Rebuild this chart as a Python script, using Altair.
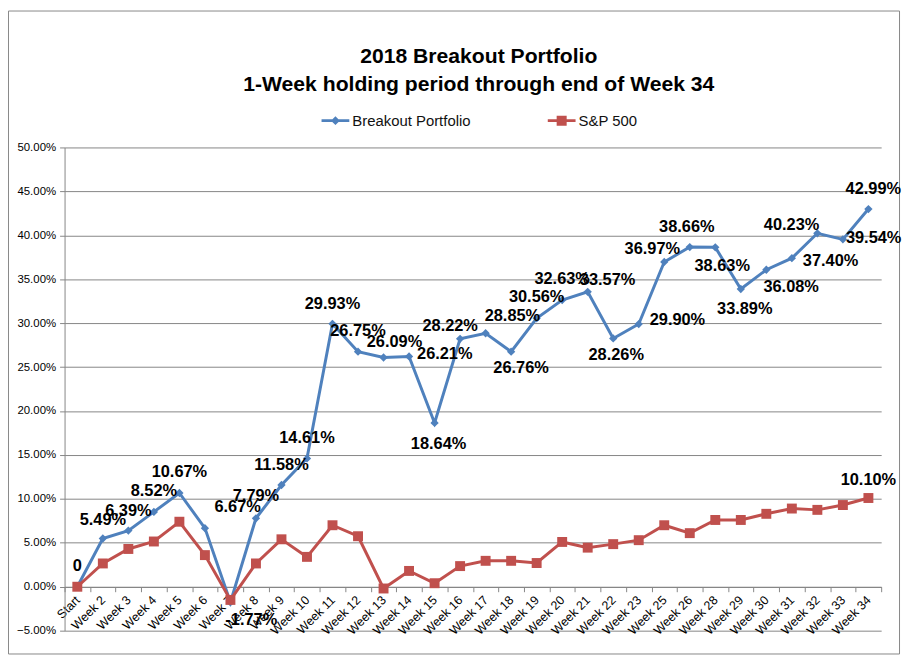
import altair as alt
import pandas as pd

categories = ["Start", "Week 2", "Week 3", "Week 4", "Week 5", "Week 6", "Week 7", "Week 8",
              "Week 9", "Week 10", "Week 11", "Week 12", "Week 13", "Week 14", "Week 15",
              "Week 16", "Week 17", "Week 18", "Week 19", "Week 20", "Week 21", "Week 22",
              "Week 23", "Week 25", "Week 26", "Week 28", "Week 29", "Week 30", "Week 31",
              "Week 32", "Week 33", "Week 34"]

breakout = [0, 5.49, 6.39, 8.52, 10.67, 6.67, -1.77, 7.79, 11.58, 14.61, 29.93, 26.75, 26.09,
            26.21, 18.64, 28.22, 28.85, 26.76, 30.56, 32.63, 33.57, 28.26, 29.90, 36.97, 38.66,
            38.63, 33.89, 36.08, 37.40, 40.23, 39.54, 42.99]

sp500 = [0, 2.65, 4.3, 5.15, 7.4, 3.6, -1.5, 2.65, 5.4, 3.4, 7.0, 5.75, -0.2, 1.8, 0.4, 2.35,
         2.95, 2.95, 2.7, 5.1, 4.45, 4.85, 5.3, 7.0, 6.1, 7.6, 7.6, 8.3, 8.9, 8.75, 9.3, 10.10]

series_names = ["Breakout Portfolio", "S&P 500"]
series_colors = ["#4F81BD", "#C0504D"]

# label placement (pixel offsets of each data label from its point)
label_dx = [0, 0, 0, 0, 0, 33, 21, 0, 0, 0, 0, 0, 11, 36, 4, -10, 27, 10, 0, 0, 20, 3, 39,
            -12, -3, 7, 4, 25, 39, -26, 31, 5]
label_dy = [-21, -19, -20, -21, -21, -21, 18, -22, -20, -20, -20, -21, -16, -2, 21, -13, -17,
            17, -21, -21, -12, 17, -4, -13, -20, 19, 20, 17, 3, -8, -1, -20]

W, H = 823, 487
Y_MIN, Y_MAX = -5, 50
half_band = W / len(categories) / 2
px_per_unit = H / (Y_MAX - Y_MIN)

rows = []
for i, c in enumerate(categories):
    rows.append({"category": c, "series": series_names[0], "value": breakout[i]})
    rows.append({"category": c, "series": series_names[1], "value": sp500[i]})
df = pd.DataFrame(rows)

lab_rows = []
for i, c in enumerate(categories):
    v = breakout[i]
    txt = "0" if v == 0 else f"{v:.2f}%"
    lab_rows.append({"category": c, "value": v, "label": txt,
                     "dx": label_dx[i] + half_band, "dy": label_dy[i]})
lab_rows.append({"category": categories[-1], "value": sp500[-1], "label": f"{sp500[-1]:.2f}%",
                 "dx": 0 + half_band, "dy": -18})
labels = pd.DataFrame(lab_rows)

FONT = "Liberation Sans"

x_enc = alt.X("category:N", sort=categories,
              scale=alt.Scale(paddingInner=0, paddingOuter=0),
              axis=alt.Axis(title=None, labelAngle=-45, labelAlign="right",
                            labelBaseline="middle", tickBand="extent",
                            offset=-(H * 5 / 55), grid=False, tickSize=5,
                            labelPadding=6, labelFontSize=12.5, labelFont=FONT,
                            labelColor="#000000", domainColor="#868686",
                            tickColor="#868686", labelOverlap=False))
y_scale = alt.Scale(domain=[Y_MIN, Y_MAX], nice=False, zero=False)
y_axis = alt.Axis(title=None, values=list(range(-5, 55, 5)),
                  labelExpr="format(datum.value, '.2f') + '%'",
                  tickSize=5, labelPadding=4, labelFontSize=11.5,
                  labelFont=FONT, labelColor="#000000", grid=True,
                  gridColor="#868686", domainColor="#868686",
                  tickColor="#868686")
y_enc = alt.Y("value:Q", scale=y_scale, axis=y_axis)

color_scale = alt.Scale(domain=series_names, range=series_colors)

legend_shapes = [
    "M-1,-0.1L1,-0.1L1,0.1L-1,0.1Z M0,-0.32L0.32,0L0,0.32L-0.32,0Z",
    "M-1,-0.1L1,-0.1L1,0.1L-1,0.1Z M-0.36,-0.36L0.36,-0.36L0.36,0.36L-0.36,0.36Z",
]
legend_x = [259, 487]


def legend_for(i):
    return alt.Legend(title=None, orient="none", direction="horizontal",
                      legendX=legend_x[i], legendY=-41, symbolSize=784,
                      symbolType=legend_shapes[i],
                      symbolFillColor=series_colors[i], symbolStrokeColor=series_colors[i],
                      labelFont=FONT, labelFontSize=15, labelColor="#111111",
                      labelOffset=3, symbolOpacity=1, symbolStrokeWidth=0)


lines = alt.Chart(df).mark_line(strokeWidth=3).encode(
    x=x_enc, y=y_enc,
    color=alt.Color("series:N", scale=color_scale, legend=None),
)

points = alt.Chart(df).mark_point(filled=True, opacity=1).encode(
    x=x_enc, y=y_enc,
    color=alt.Color("series:N", scale=color_scale, legend=None),
    shape=alt.Shape("series:N", scale=alt.Scale(domain=series_names,
                                                range=["diamond", "square"]), legend=None),
    size=alt.Size("series:N", scale=alt.Scale(domain=series_names, range=[70, 100]),
                  legend=None),
)

legend_layers = []
for i, name in enumerate(series_names):
    legend_layers.append(
        alt.Chart(df).transform_filter(alt.datum.series == name)
        .mark_point(filled=True, opacity=0, color=series_colors[i]).encode(
            x=x_enc, y=y_enc,
            shape=alt.Shape("series:N",
                            scale=alt.Scale(domain=[name], range=[legend_shapes[i]]),
                            legend=legend_for(i)),
        )
    )

text = alt.Chart(labels).transform_calculate(
    ly=f"datum.value - datum.dy / {px_per_unit}"
).mark_text(fontWeight="bold", fontSize=16.5, font=FONT,
            color="black", align="center", baseline="middle").encode(
    x=x_enc, y=alt.Y("ly:Q", scale=y_scale, axis=y_axis), text="label:N",
    xOffset=alt.XOffset("dx:Q", scale=None),
)

border = alt.Chart(pd.DataFrame({"a": [0]})).mark_rect(
    fill=None, stroke="#888888", strokeWidth=1).encode(
    x=alt.value(-56.5), x2=alt.value(841.5), y=alt.value(-137.5), y2=alt.value(510.5))

chart = alt.layer(border, lines, points, *legend_layers, text).resolve_scale(
    shape="independent"
).properties(
    width=W, height=H,
    autosize=alt.AutoSizeParams(type="none"),
    padding={"left": 57, "top": 138, "right": 21, "bottom": 25},
    background="white",
    title=alt.TitleParams(text=["2018 Breakout Portfolio",
                                "1-Week holding period through end of Week 34"],
                          font=FONT, fontSize=21.3, fontWeight="bold", color="black",
                          anchor="middle", frame="group", dx=6, offset=0, dy=102,
                          baseline="alphabetic", lineHeight=28),
).configure_view(stroke=None)

chart.save("out.html", embed_options={"renderer": "svg", "actions": False})
